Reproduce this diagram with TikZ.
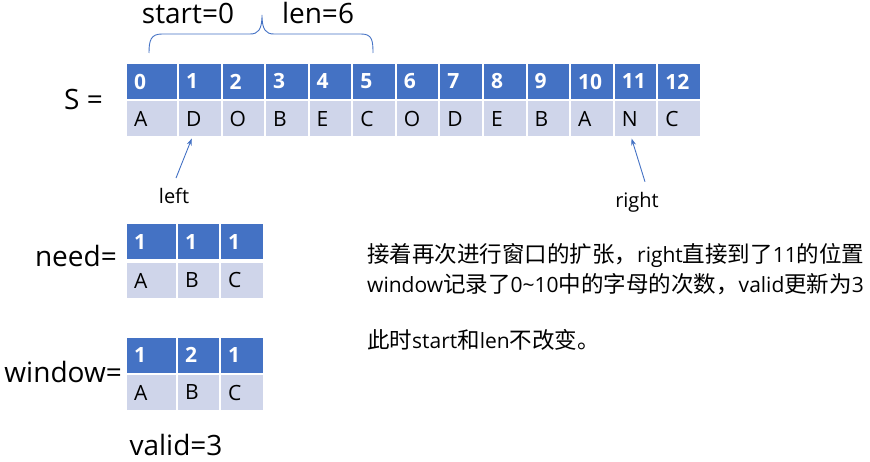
\documentclass[tikz,border=0pt]{standalone}
\usepackage{fontspec}
\setmainfont{Open Sans}
\newfontfamily\cjk{Noto Sans CJK SC}
\usetikzlibrary{arrows.meta}
\definecolor{hdblue}{HTML}{4472C4}
\definecolor{cellgray}{HTML}{CFD5EA}
\def\fsz#1{\fontsize{#1}{#1}\selectfont}
\def\zh#1{{\cjk\fsz{22.5}#1}}
\tikzset{
	cell/.style={draw=white, line width=2pt, minimum height=37pt, inner xsep=8pt, inner ysep=0pt, anchor=west, align=left},
	hdcell/.style={cell, fill=hdblue, text=white, font=\bfseries\fsz{21}},
	chcell/.style={cell, fill=cellgray, text=black, font=\fsz{21}},
	lbl/.style={inner sep=0pt, font=\fsz{28}},
	ptrlbl/.style={inner sep=0pt, font=\fsz{20}},
	ptr/.style={draw=hdblue, line width=0.9pt, -{Stealth[length=7pt,width=5pt]}},
	brace/.style={draw=hdblue, line width=0.9pt},
	note/.style={inner sep=0pt, anchor=west, font=\fsz{21}}
}

\begin{document}
\begin{tikzpicture}[x=1pt, y=-1pt]
		%%%%% START %%%%%
		\useasboundingbox (0,0) rectangle (870,462);
		
		% the string S
		\node[lbl, anchor=west] (slbl) at (64,100) {S =};
		\foreach \i/\ch in {0/A,1/D,2/O,3/B,4/E,5/C,6/O,7/D,8/E,9/B,10/A,11/N,12/C} {
			\pgfmathsetmacro\cx{\i==0 ? 125 : 177+(\i-1)*43.58}
			\pgfmathsetmacro\tw{(\i==0 ? 52 : 43.58)-16}
			\node[hdcell, text width=\tw pt] (h\i) at (\cx,81.5) {\i};
			\node[chcell, text width=\tw pt] (c\i) at (\cx,119) {\ch};
		}
		
		% window [start, start+len)
		\draw[brace] (149,53) .. controls (149,40) and (151,34) .. (162,34) -- (250,34) .. controls (258,34) and (262,30) .. (262,15) .. controls (262,30) and (266,34) .. (274,34) -- (361,34) .. controls (372,34) and (373,40) .. (373,53);
		\node[lbl] (startlbl) at (188,13) {start=0};
		\node[lbl] (lenlbl) at (318,13) {len=6};
		
		% pointers
		\node[ptrlbl] (leftlbl) at (174,196) {left};
		\node[ptrlbl] (rightlbl) at (637,202) {right};
		\draw[ptr] ([shift={(2,-10)}]leftlbl.north) -- ([xshift=-8]c1.south);
		\draw[ptr] ([shift={(8,-10)}]rightlbl.north) -- ([xshift=-4]c11.south);
		
		% need
		\node[lbl, anchor=east] (needlbl) at (117,256) {need=};
		\foreach \i/\n/\ch/\cx/\w in {0/1/A/125/51, 1/1/B/176/43, 2/1/C/219/44} {
			\pgfmathsetmacro\tw{\w-16}
			\node[hdcell, text width=\tw pt] (nh\i) at (\cx,242) {\n};
			\node[chcell, text width=\tw pt] (nc\i) at (\cx,280.5) {\ch};
		}
		
		% window
		\node[lbl, anchor=east] (winlbl) at (122,372) {window=};
		\foreach \i/\n/\ch/\cx/\w in {0/1/A/125/51, 1/2/B/176/43, 2/1/C/219/44} {
			\pgfmathsetmacro\tw{\w-16}
			\node[hdcell, text width=\tw pt] (wh\i) at (\cx,355) {\n};
			\node[chcell, text width=\tw pt] (wc\i) at (\cx,392.5) {\ch};
		}
		
		\node[lbl] (validlbl) at (176,445) {valid=3};
		
		% notes
		\node[note] (note1) at (367,255) {\zh{接着再次进行窗口的扩张，}right\zh{直接到了}11\zh{的位置}};
		\node[note] (note2) at (367,284) {window\zh{记录了}0\textasciitilde10\zh{中的字母的次数，}valid\zh{更新为}3};
		\node[note] (note3) at (367,340) {\zh{此时}start\zh{和}len\zh{不改变。}};
		
		%%%%% END %%%%%
	\end{tikzpicture}
\end{document}
